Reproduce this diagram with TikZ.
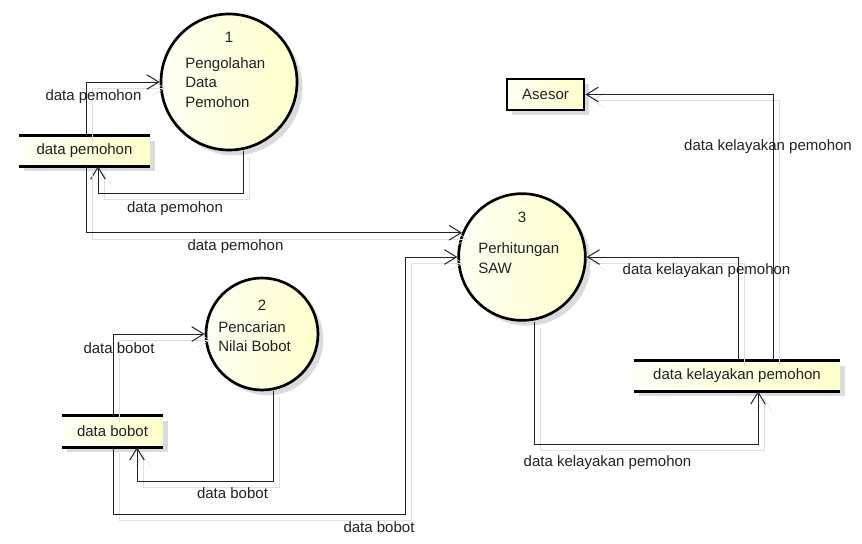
\documentclass[tikz,border=0pt]{standalone}
\usepackage{fontspec}
\setmainfont{Liberation Sans}
\usetikzlibrary{arrows.meta,shadows}
\definecolor{lightfill}{HTML}{FFFFF4}
\definecolor{darkfill}{HTML}{FFFFCC}
\definecolor{ink}{HTML}{222222}
\begin{document}
\begin{tikzpicture}[x=0.75pt,y=-0.75pt,
  font=\fontsize{11.25}{14.6}\selectfont, text=ink,
  shade/.style={drop shadow={shadow xshift=4pt,shadow yshift=-4pt,fill=black!14,opacity=1}},
  proc/.style={circle, inner sep=0pt, draw=black, line width=2pt, left color=lightfill, right color=darkfill, shade},
  store/.style={rectangle, inner sep=0pt, left color=lightfill, right color=darkfill, shade},
  storeline/.style={draw=black, line width=2pt},
  ent/.style={rectangle, inner sep=0pt, draw=black, line width=2.2pt, left color=lightfill, right color=darkfill, shade},
  flow/.style={line width=0.75pt, draw=ink, -{Straight Barb[length=9pt,width=11pt]},
    preaction={draw=black!12, transform canvas={xshift=4.5pt,yshift=-4.5pt}}},
  lbl/.style={inner sep=0pt},
  ptext/.style={inner sep=0pt, anchor=west, align=left}]
\useasboundingbox (0,0) rectangle (862,543);

% processes
\node[proc, minimum size=102pt] (c1) at (229,82) {};
\node[proc, minimum size=84pt] (c2) at (262,334) {};
\node[proc, minimum size=95pt] (c3) at (522,257) {};
\node[lbl] (n1) at (229,37) {1};
\node[ptext] (t1) at (185,82.5) {Pengolahan\\Data\\Pemohon};
\node[lbl] (n2) at (262,305) {2};
\node[ptext] (t2) at (218,336.5) {Pencarian\\Nilai Bobot};
\node[lbl] (n3) at (522,217) {3};
\node[ptext] (t3) at (478,258) {Perhitungan\\SAW};

% data stores
\node[store, minimum width=98.25pt, minimum height=22.5pt] (s1) at (84.5,151) {data pemohon};
\node[store, minimum width=75.75pt, minimum height=23.25pt] (s2) at (112.5,431.5) {data bobot};
\node[store, minimum width=154.5pt, minimum height=22.5pt] (s3) at (737,376) {data kelayakan pemohon};
\foreach \s in {s1,s2,s3}{
  \draw[storeline] (\s.north west) -- (\s.north east) (\s.south west) -- (\s.south east);
}

% external entity
\node[ent, minimum width=57.75pt, minimum height=23.25pt] (ases) at (545.5,94.5) {Asesor};

% helper coordinates
\coordinate (ka) at (86,0);
\coordinate (kb1) at (243,193);
\coordinate (kb2) at (98,193);
\coordinate (kd) at (113,0);
\coordinate (ke1) at (273,481);
\coordinate (ke2) at (137,481);
\coordinate (kf1) at (113,514);
\coordinate (kf2) at (405,514);
\coordinate (kg1) at (534,444);
\coordinate (kg2) at (758,444);
\coordinate (kh) at (738,0);
\coordinate (ki) at (773,0);

% flows
\draw[flow] (s1.north -| ka) |- (c1.west);
\draw[flow] (c1.south -| kb1) -- (kb1) -- (kb2) -- (s1.south -| kb2);
\draw[flow] (s1.south -| ka) |- (c3.158);
\draw[flow] (s2.north -| kd) |- (c2.west);
\draw[flow] (c2.south -| ke1) -- (ke1) -- (ke2) -- (s2.south -| ke2);
\draw[flow] (s2.south -| kd) -- (kf1) -- (kf2) |- (c3.west);
\draw[flow] (c3.south -| kg1) -- (kg1) -- (kg2) -- (s3.south -| kg2);
\draw[flow] (s3.north -| kh) |- (c3.east);
\draw[flow] (s3.north -| ki) |- (ases.east);

% labels
\node[lbl] (l1) at (93.5,97) {data pemohon};
\node[lbl] (l2) at (175,209) {data pemohon};
\node[lbl] (l3) at (235.5,247) {data pemohon};
\node[lbl] (l4) at (119,348) {data bobot};
\node[lbl] (l5) at (232.5,493) {data bobot};
\node[lbl] (l6) at (379,527) {data bobot};
\node[lbl] (l7) at (607.5,463) {data kelayakan pemohon};
\node[lbl] (l8) at (706.5,271) {data kelayakan pemohon};
\node[lbl] (l9) at (768,147) {data kelayakan pemohon};
\end{tikzpicture}
\end{document}
